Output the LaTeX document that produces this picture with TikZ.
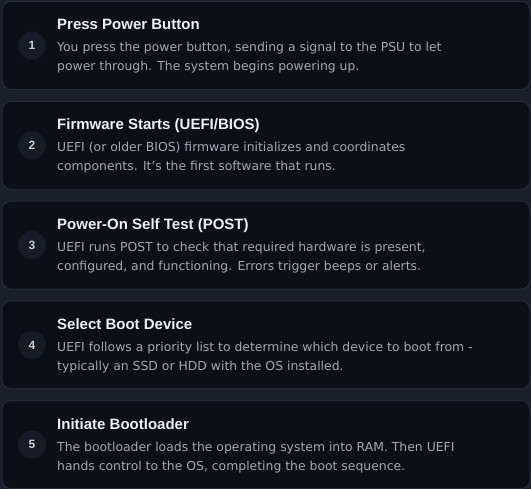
\documentclass[tikz,border=0pt]{standalone}
\usepackage{fontspec}
\setmainfont{Liberation Sans}
\newfontfamily\descfont{DejaVu Sans}
\definecolor{pagebg}{HTML}{1B1F29}
\definecolor{cardbg}{HTML}{0C0F16}
\definecolor{cardline}{HTML}{262B36}
\definecolor{numbg}{HTML}{171B25}
\definecolor{numfg}{HTML}{C9CCD3}
\definecolor{titlefg}{HTML}{EEF0F4}
\definecolor{descfg}{HTML}{A3A7AF}
\tikzset{
  card/.style={draw=cardline, line width=1pt, fill=cardbg, rounded corners=9pt},
  numdot/.style={circle, fill=numbg, minimum size=28pt, inner sep=0pt, text=numfg, font=\fontsize{12}{12}\selectfont\bfseries},
  ttl/.style={anchor=base west, inner sep=0pt, text=titlefg, font=\fontsize{15}{15}\selectfont\bfseries},
  dsc/.style={anchor=base west, inner sep=0pt, text=descfg, font=\descfont\fontsize{12.4}{12.4}\selectfont},
}
\begin{document}
\begin{tikzpicture}[x=1pt,y=-1pt]
\fill[pagebg] (0,0) rectangle (531,489);
\useasboundingbox (0,0) rectangle (531,489);
\foreach \i/\t/\a/\b in {
 1/{Press Power Button}/{You press the power button, sending a signal to the PSU to let}/{power through. The system begins powering up.},
 2/{Firmware Starts (UEFI/BIOS)}/{UEFI (or older BIOS) firmware initializes and coordinates}/{components. It’s the first software that runs.},
 3/{Power-On Self Test (POST)}/{UEFI runs POST to check that required hardware is present,}/{configured, and functioning. Errors trigger beeps or alerts.},
 4/{Select Boot Device}/{UEFI follows a priority list to determine which device to boot from -}/{typically an SSD or HDD with the OS installed.},
 5/{Initiate Bootloader}/{The bootloader loads the operating system into RAM. Then UEFI}/{hands control to the OS, completing the boot sequence.}}
{
  \pgfmathsetmacro{\top}{1+(\i-1)*99.8}
  \node[card, minimum width=528pt, minimum height=88pt, anchor=north west, inner sep=0pt] (card\i) at (1.5,\top) {};
  \node[numdot] (num\i) at ([xshift=30.5pt]card\i.west) {\i};
  \node[ttl] (title\i) at (57,\top+29) {\t};
  \node[dsc] (desca\i) at (57,\top+51) {\a};
  \node[dsc] (descb\i) at (57,\top+70) {\b};
}
\end{tikzpicture}
\end{document}
